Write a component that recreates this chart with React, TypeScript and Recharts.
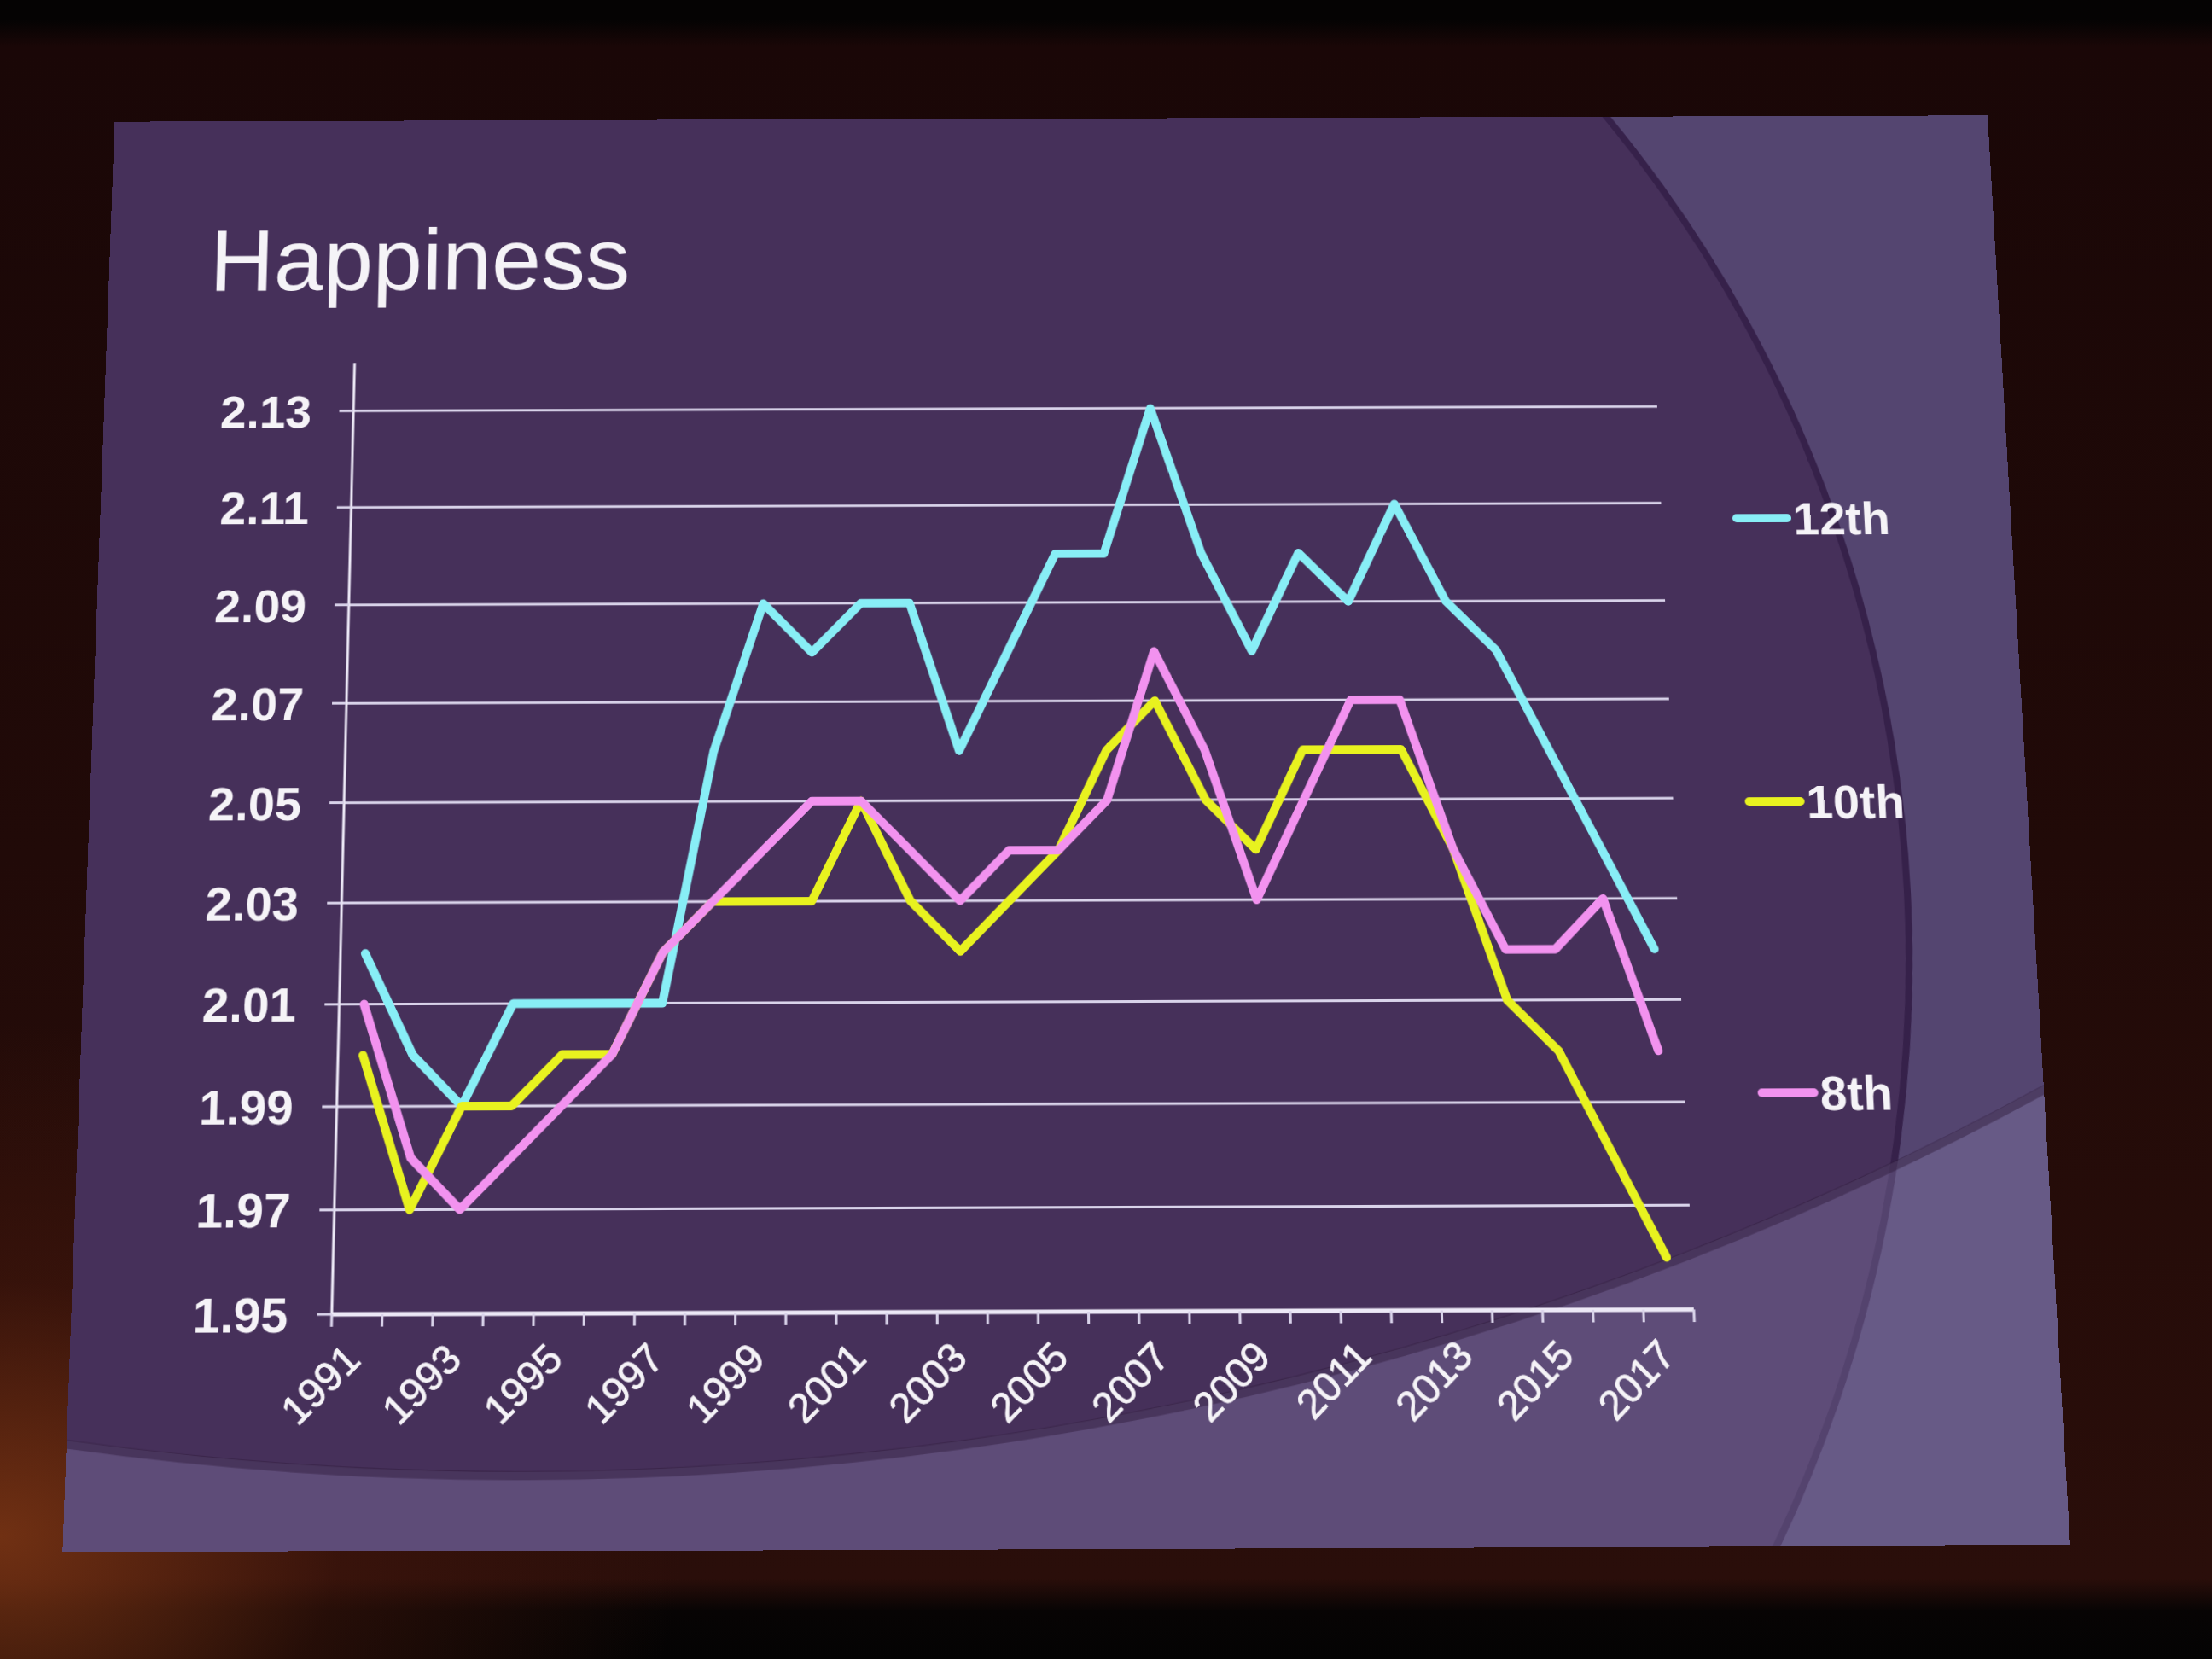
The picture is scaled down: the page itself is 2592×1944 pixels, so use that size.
import React from 'react';
import { LineChart, Line, XAxis, YAxis, CartesianGrid, Legend } from 'recharts';

// survey years (one point per year)
const years = [
  1991, 1992, 1993, 1994, 1995, 1996, 1997, 1998, 1999, 2000, 2001, 2002, 2003, 2004,
  2005, 2006, 2007, 2008, 2009, 2010, 2011, 2012, 2013, 2014, 2015, 2016, 2017,
];

const grade12 = [
  2.02, 2.0, 1.99, 2.01, 2.01, 2.01, 2.01, 2.06, 2.09, 2.08, 2.09, 2.09, 2.06, 2.08,
  2.1, 2.1, 2.13, 2.1, 2.08, 2.1, 2.09, 2.11, 2.09, 2.08, 2.06, 2.04, 2.02,
];

const grade10 = [
  2.0, 1.97, 1.99, 1.99, 2.0, 2.0, 2.02, 2.03, 2.03, 2.03, 2.05, 2.03, 2.02, 2.03,
  2.04, 2.06, 2.07, 2.05, 2.04, 2.06, 2.06, 2.06, 2.04, 2.01, 2.0, 1.98, 1.96,
];

const grade8 = [
  2.01, 1.98, 1.97, 1.98, 1.99, 2.0, 2.02, 2.03, 2.04, 2.05, 2.05, 2.04, 2.03, 2.04,
  2.04, 2.05, 2.08, 2.06, 2.03, 2.05, 2.07, 2.07, 2.04, 2.02, 2.02, 2.03, 2.0,
];

const yTicks = [1.95, 1.97, 1.99, 2.01, 2.03, 2.05, 2.07, 2.09, 2.11, 2.13];
const labelYears = [1991, 1993, 1995, 1997, 1999, 2001, 2003, 2005, 2007, 2009, 2011, 2013, 2015, 2017];

const seriesNames = ['12th', '10th', '8th'];
const seriesColors = ['#88eef6', '#e8f21f', '#f292ef'];

const data = years.map((year, i) => ({ year, g12: grade12[i], g10: grade10[i], g8: grade8[i] }));
// category boundaries, where the tick marks sit
const boundaryTicks = [...years.map((y) => y - 0.5), years[years.length - 1] + 0.5];

const FONT = '"Liberation Sans", Arial, sans-serif';
const TEXT = '#f5f3f7';
const GRID = '#d9d3ea';

// slide, drawn flat and then tilted like the projected photo
const SW = 2271;
const SH = 1680;
const PLOT_L = 298;
const PLOT_R = 1856;
const PLOT_T = 301;
const PLOT_B = 1417;
const CAT = (PLOT_R - PLOT_L) / years.length;
const LEG_GAP = 338;

function YearTick(props: any) {
  const { x, y, payload } = props;
  const year = payload.value + 0.5;
  if (!labelYears.includes(year)) return <g />;
  return (
    <g transform={`translate(${x + CAT / 2 - 4},${y + 26})`}>
      <text
        textAnchor="end"
        transform="rotate(-45)"
        dy="0.35em"
        fill={TEXT}
        fontSize={46}
        fontFamily={FONT}
        stroke={TEXT}
        strokeWidth={0.8}
      >
        {year}
      </text>
    </g>
  );
}

function renderLegend(props: any) {
  const payload = [...(props.payload || [])].sort(
    (a: any, b: any) => seriesNames.indexOf(a.value) - seriesNames.indexOf(b.value)
  );
  return (
    <div style={{ position: 'relative', width: 280, height: LEG_GAP * 3 }}>
      {payload.map((entry: any, i: number) => (
        <div
          key={entry.value}
          style={{
            position: 'absolute',
            left: 0,
            top: i * LEG_GAP,
            height: 80,
            display: 'flex',
            alignItems: 'center',
          }}
        >
          <svg width={70} height={14}>
            <line x1={5} y1={7} x2={65} y2={7} stroke={entry.color} strokeWidth={10} strokeLinecap="round" />
          </svg>
          <span style={{ fontSize: 56, fontWeight: 'bold', color: TEXT, fontFamily: FONT, marginLeft: 2 }}>
            {entry.value}
          </span>
        </div>
      ))}
    </div>
  );
}

function SlideBackground() {
  return (
    <svg width={SW} height={SH} style={{ position: 'absolute', left: 0, top: 0 }}>
      <rect x={0} y={0} width={SW} height={SH} fill="#544570" />
      <circle cx={568} cy={941} r={1557} fill="#46305a" stroke="#36214a" strokeWidth={8} />
      <path
        d={`M0 0 H${SW} V${SH} H0 Z M${524 - 3780} -2187 a3780 3780 0 1 0 7560 0 a3780 3780 0 1 0 -7560 0 Z`}
        fillRule="evenodd"
        fill="#8a80b0"
        opacity={0.36}
      />
      <circle cx={524} cy={-2187} r={3784} fill="none" stroke="#2e1a3a" strokeWidth={10} opacity={0.45} />
      <text x={121} y={211} fontSize={107} fill={TEXT} fontFamily={FONT}>
        Happiness
      </text>
    </svg>
  );
}

export default function App() {
  return (
    <div
      style={{
        position: 'absolute',
        left: 0,
        top: 0,
        width: 2592,
        height: 1944,
        overflow: 'hidden',
        background:
          'radial-gradient(ellipse 800px 600px at 0px 1800px, rgba(120,52,20,0.9), rgba(70,24,12,0.5) 50%, rgba(0,0,0,0) 100%), linear-gradient(to bottom, #050303 0px, #050303 24px, #1a0707 55px, #210a08 1000px, #2a0e0a 1850px, #070404 1888px, #040303 1944px)',
      }}
    >
      <div
        style={{
          position: 'absolute',
          left: 104.5,
          top: 108,
          width: SW,
          height: SH,
          transformOrigin: '50% 50%',
          transform: 'perspective(2000px) rotateX(4.74deg) skewX(0.41deg) rotate(-0.2deg)',
        }}
      >
        <SlideBackground />
        <div style={{ position: 'absolute', left: 0, top: 0 }}>
          <LineChart
            width={SW}
            height={SH}
            data={data}
            margin={{ top: PLOT_T, right: SW - PLOT_R, left: 0, bottom: SH - PLOT_B - 150 }}
          >
            <CartesianGrid
              horizontal
              vertical={false}
              horizontalValues={yTicks}
              stroke={GRID}
              strokeWidth={3}
            />
            <XAxis
              dataKey="year"
              type="number"
              domain={[1990.5, 2017.5]}
              ticks={boundaryTicks}
              interval={0}
              height={150}
              tickSize={14}
              tickMargin={2}
              axisLine={{ stroke: '#ece8f6', strokeWidth: 5 }}
              tickLine={{ stroke: GRID, strokeWidth: 3 }}
              tick={<YearTick />}
            />
            <YAxis
              type="number"
              domain={[1.95, 2.14]}
              ticks={yTicks}
              interval={0}
              width={PLOT_L}
              tickSize={17}
              tickMargin={33}
              axisLine={{ stroke: '#ece8f6', strokeWidth: 3 }}
              tickLine={{ stroke: GRID, strokeWidth: 3 }}
              tickFormatter={(v: number) => v.toFixed(2)}
              tick={{ fill: TEXT, fontSize: 56, fontWeight: 'bold', fontFamily: FONT }}
            />
            <Legend
              layout="vertical"
              align="center"
              verticalAlign="middle"
              content={renderLegend}
              wrapperStyle={{ left: 1940, top: 456, width: 280 }}
            />
            <Line
              type="linear"
              dataKey="g12"
              name={seriesNames[0]}
              stroke={seriesColors[0]}
              strokeWidth={10}
              strokeLinejoin="round"
              strokeLinecap="round"
              dot={false}
              isAnimationActive={false}
            />
            <Line
              type="linear"
              dataKey="g10"
              name={seriesNames[1]}
              stroke={seriesColors[1]}
              strokeWidth={10}
              strokeLinejoin="round"
              strokeLinecap="round"
              dot={false}
              isAnimationActive={false}
            />
            <Line
              type="linear"
              dataKey="g8"
              name={seriesNames[2]}
              stroke={seriesColors[2]}
              strokeWidth={10}
              strokeLinejoin="round"
              strokeLinecap="round"
              dot={false}
              isAnimationActive={false}
            />
          </LineChart>
        </div>
      </div>
    </div>
  );
}
